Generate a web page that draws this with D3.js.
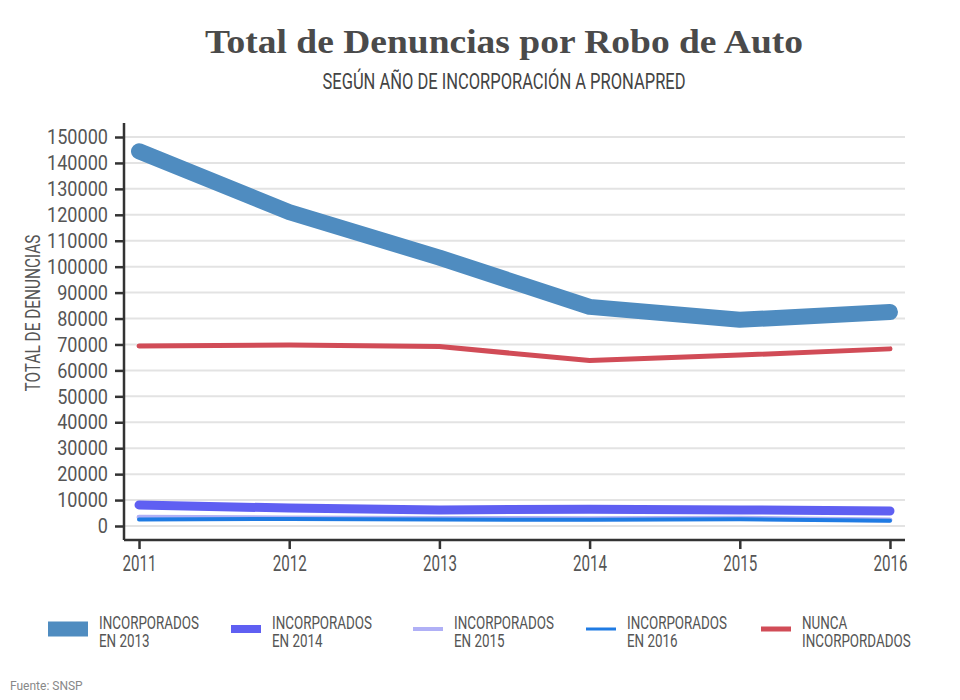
<!DOCTYPE html>
<html>
<head>
<meta charset="utf-8">
<script src="https://cdn.jsdelivr.net/npm/d3@7"></script>
<style>
  body { margin: 0; background: #fff; }
  .cond { font-family: Roboto, "Liberation Sans", sans-serif; }
</style>
</head>
<body>
<svg id="chart" width="960" height="700"></svg>
<script>
const years = [2011, 2012, 2013, 2014, 2015, 2016];
const inc2013 = [144500, 121000, 103500, 84500, 79500, 82500];
const inc2014 = [8100, 6900, 6200, 6500, 6200, 5800];
const inc2015 = [3400, 3100, 2900, 2800, 3000, 2300];
const inc2016 = [2500, 2700, 2500, 2400, 2600, 2000];
const nunca = [69400, 69800, 69200, 63800, 65900, 68300];
const yTicks = d3.range(0, 150001, 10000);

const series = [
  { name: ["INCORPORADOS", "EN 2013"], values: inc2013, color: "#4f8cc0", width: 16, swatch: 40, sw: 15 },
  { name: ["INCORPORADOS", "EN 2014"], values: inc2014, color: "#5f5ff2", width: 9, swatch: 30, sw: 8 },
  { name: ["INCORPORADOS", "EN 2015"], values: inc2015, color: "#b0b0f6", width: 5, swatch: 30, sw: 4 },
  { name: ["INCORPORADOS", "EN 2016"], values: inc2016, color: "#1f7be3", width: 4, swatch: 30, sw: 3 },
  { name: ["NUNCA", "INCORPORDADOS"], values: nunca, color: "#d14c57", width: 5, swatch: 30, sw: 5 }
];

const svg = d3.select("#chart");

// squeeze text horizontally so it looks like a condensed face
function squeeze(sel, k) {
  sel.each(function () {
    const w = this.getComputedTextLength();
    d3.select(this).attr("textLength", w * k).attr("lengthAdjust", "spacingAndGlyphs");
  });
}
function ratio(sel, target) {
  return target / sel.node().getComputedTextLength();
}

const xScale = d3.scaleLinear().domain([2010.9, 2016.1]).range([124, 905]);
const yScale = d3.scaleLinear().domain([-5400, 155400]).range([540, 123]);

// titles
const title = svg.append("text")
  .attr("x", 504).attr("y", 53)
  .attr("text-anchor", "middle")
  .style("font-family", "'Liberation Serif', 'DejaVu Serif', serif")
  .style("font-weight", "bold")
  .style("font-size", "34px")
  .attr("fill", "#4a4a4a")
  .text("Total de Denuncias por Robo de Auto");
squeeze(title, ratio(title, 598));

const sub = svg.append("text")
  .attr("class", "cond")
  .attr("x", 504).attr("y", 89)
  .attr("text-anchor", "middle")
  .style("font-size", "22px")
  .attr("fill", "#444")
  .text("SEGÚN AÑO DE INCORPORACIÓN A PRONAPRED");
squeeze(sub, ratio(sub, 363));

// gridlines
svg.append("g")
  .selectAll("line")
  .data(yTicks)
  .enter()
  .append("line")
  .attr("x1", 124).attr("x2", 905)
  .attr("y1", d => yScale(d)).attr("y2", d => yScale(d))
  .attr("stroke", "#e3e3e3")
  .attr("stroke-width", 2);

// y axis
const yAxis = svg.append("g")
  .attr("transform", "translate(124,0)")
  .call(d3.axisLeft(yScale).tickValues(yTicks).tickSize(9).tickPadding(7).tickFormat(d3.format("d")));
yAxis.attr("font-family", null).attr("font-size", null);
yAxis.select(".domain").attr("stroke", "#333").attr("stroke-width", 2.5).attr("d", "M0,123V540");
yAxis.selectAll(".tick line").attr("stroke", "#333").attr("stroke-width", 2.5);
const yText = yAxis.selectAll(".tick text")
  .attr("class", "cond")
  .style("font-size", "21px")
  .attr("fill", "#555");
squeeze(yText, ratio(yAxis.selectAll(".tick text").filter(d => d === 150000), 61));

// x axis
const xAxis = svg.append("g")
  .attr("transform", "translate(0,540)")
  .call(d3.axisBottom(xScale).tickValues(years).tickSize(9).tickPadding(6).tickFormat(d3.format("d")));
xAxis.attr("font-family", null).attr("font-size", null);
xAxis.select(".domain").attr("stroke", "#333").attr("stroke-width", 2.5).attr("d", "M124,0H905");
xAxis.selectAll(".tick line").attr("stroke", "#333").attr("stroke-width", 2.5);
const xText = xAxis.selectAll(".tick text")
  .attr("class", "cond")
  .style("font-size", "22px")
  .attr("fill", "#555");
squeeze(xText, ratio(xAxis.selectAll(".tick text").filter(d => d === 2012), 34));

const yLabel = svg.append("text")
  .attr("class", "cond")
  .attr("transform", "translate(40,313) rotate(-90)")
  .attr("text-anchor", "middle")
  .style("font-size", "21px")
  .attr("fill", "#555")
  .text("TOTAL DE DENUNCIAS");
squeeze(yLabel, ratio(yLabel, 157));

// lines
const line = d3.line()
  .x((d, i) => xScale(years[i]))
  .y(d => yScale(d));

svg.append("g")
  .selectAll("path")
  .data(series)
  .enter()
  .append("path")
  .attr("d", d => line(d.values))
  .attr("fill", "none")
  .attr("stroke", d => d.color)
  .attr("stroke-width", d => d.width)
  .attr("stroke-linecap", "round")
  .attr("stroke-linejoin", "round");

// legend
const legendX = [48, 231, 413, 586, 761];
const legend = svg.append("g");
series.forEach((s, i) => {
  const row = legend.append("g").attr("transform", `translate(${legendX[i]},629)`);
  row.append("rect")
    .attr("x", 0).attr("y", -s.sw / 2)
    .attr("width", s.swatch).attr("height", s.sw)
    .attr("fill", s.color);
  row.append("text")
    .attr("class", "cond")
    .attr("x", s.swatch + 11).attr("y", 0)
    .style("font-size", "18px")
    .attr("fill", "#555")
    .selectAll("tspan")
    .data(s.name)
    .enter()
    .append("tspan")
    .attr("class", "legend-text")
    .attr("x", s.swatch + 11)
    .attr("dy", (d, j) => j === 0 ? 0 : 18)
    .text(d => d);
});
const legTexts = legend.selectAll(".legend-text");
squeeze(legTexts, ratio(legTexts.filter(d => d === "INCORPORADOS"), 100));

svg.append("text")
  .attr("x", 10).attr("y", 690)
  .style("font-family", "Roboto, 'Liberation Sans', sans-serif")
  .style("font-size", "12px")
  .attr("fill", "#888")
  .text("Fuente: SNSP");
</script>
</body>
</html>
